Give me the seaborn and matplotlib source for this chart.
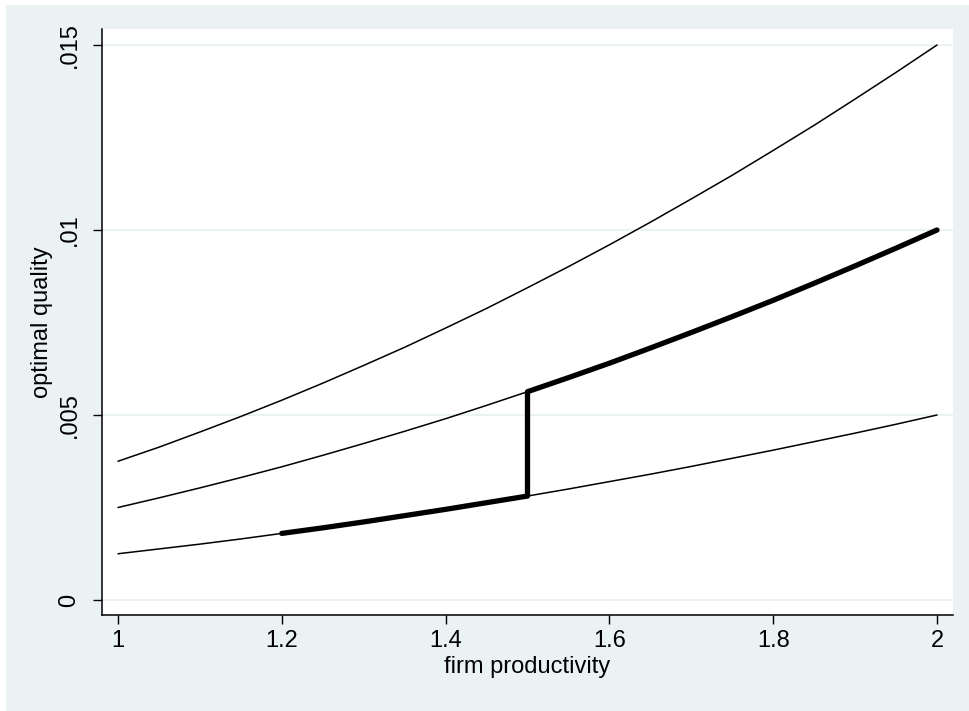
import numpy as np
import pandas as pd
import matplotlib
matplotlib.use("Agg")
import matplotlib.pyplot as plt
import seaborn as sns
from matplotlib.patches import Rectangle

# values
productivity = [1.00, 1.05, 1.10, 1.15, 1.20, 1.25, 1.30, 1.35, 1.40, 1.45, 1.50,
                1.55, 1.60, 1.65, 1.70, 1.75, 1.80, 1.85, 1.90, 1.95, 2.00]
quality_high = [.00375, .00413, .00454, .00496, .00540, .00586, .00634, .00683, .00735, .00788, .00844,
                .00901, .00960, .01021, .01084, .01148, .01215, .01283, .01354, .01426, .01500]
quality_mid = [.00250, .00276, .00303, .00331, .00360, .00391, .00423, .00456, .00490, .00526, .00563,
               .00601, .00640, .00681, .00723, .00766, .00810, .00856, .00903, .00951, .01000]
quality_low = [.00125, .00138, .00151, .00165, .00180, .00195, .00211, .00228, .00245, .00263, .00281,
               .00300, .00320, .00340, .00361, .00383, .00405, .00428, .00451, .00475, .00500]

# optimal path: low branch from 1.2 to 1.5, jump, then mid branch up to 2
path_x = productivity[4:11] + productivity[10:]
path_y = quality_low[4:11] + quality_mid[10:]

x_ticks = [1, 1.2, 1.4, 1.6, 1.8, 2]
x_ticklabels = ["1", "1.2", "1.4", "1.6", "1.8", "2"]
y_ticks = [0, .005, .01, .015]
y_ticklabels = ["0", ".005", ".01", ".015"]

sns.set_style("white")
plt.rcParams['font.family'] = ['Liberation Sans', 'DejaVu Sans']
plt.rcParams['text.color'] = 'black'
plt.rcParams['axes.labelcolor'] = 'black'
plt.rcParams['xtick.color'] = 'black'
plt.rcParams['ytick.color'] = 'black'

bg = "#EAF2F3"
fig = plt.figure(figsize=(9.69, 7.11), dpi=100, facecolor="white")
fig.patches.append(Rectangle((6 / 969, 0), 963 / 969, 706 / 711,
                             transform=fig.transFigure, facecolor=bg,
                             edgecolor="none", zorder=-10))

ax = fig.add_axes([102 / 969, 1 - 615 / 711, 851 / 969, 586 / 711])
ax.set_facecolor("white")

for ys in [quality_high, quality_mid, quality_low]:
    sns.lineplot(x=productivity, y=ys, ax=ax, color="black", linewidth=1.1)
sns.lineplot(x=path_x, y=path_y, ax=ax, color="black", linewidth=3.8,
             sort=False, estimator=None)

ax.set_xlim(1 - 16 / 819, 2 + 16 / 819)
ax.set_ylim(-15 * .015 / 555, .015 + 16 * .015 / 555)

ax.set_xticks(x_ticks)
ax.set_xticklabels(x_ticklabels)
ax.set_yticks(y_ticks)
ax.set_yticklabels(y_ticklabels, rotation=90, va="center")

ax.grid(axis="y", color=bg, linewidth=1.5)
ax.set_axisbelow(True)
for side in ["top", "right"]:
    ax.spines[side].set_visible(False)
for side in ["left", "bottom"]:
    ax.spines[side].set_color("black")
    ax.spines[side].set_linewidth(1.1)

ax.tick_params(axis="both", direction="out", length=6.5, width=1, color="black",
               labelcolor="black", labelsize=17, pad=4, left=True, bottom=True)
ax.tick_params(axis="y", pad=9)

ax.set_xlabel("firm productivity", fontsize=17, labelpad=3, color="black")
ax.set_ylabel("optimal quality", fontsize=17, labelpad=4, color="black")

fig.savefig("out.png", dpi=100, facecolor=fig.get_facecolor())
